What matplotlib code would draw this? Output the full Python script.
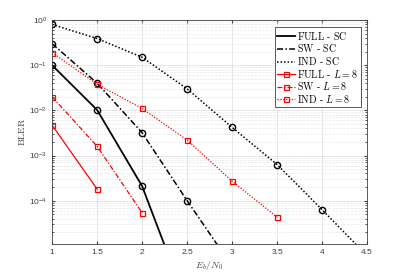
import matplotlib
import matplotlib.pyplot as plt

matplotlib.use("Agg")

plt.rcParams["mathtext.fontset"] = "cm"
plt.rcParams["font.family"] = ["Liberation Sans", "DejaVu Sans"]

# Eb/N0 values and BLER curves
ebn0 = [1.0, 1.5, 2.0, 2.5, 3.0, 3.5, 4.0, 4.5]

full_sc = [0.10, 0.0102, 2.1e-4, 5e-7]
sw_sc = [0.30, 0.040, 0.0032, 1.0e-4, 3.5e-6]
ind_sc = [0.80, 0.39, 0.15, 0.030, 0.0042, 6.3e-4, 6.3e-5, 6e-6]

full_l8 = [0.0047, 1.8e-4]
sw_l8 = [0.020, 1.6e-3, 5.4e-5]
ind_l8 = [0.19, 0.038, 0.011, 0.0022, 2.7e-4, 4.3e-5]

labels = [r"$\text{FULL - SC}$", r"$\text{SW - SC}$", r"$\text{IND - SC}$",
          r"$\text{FULL - }L=8$", r"$\text{SW - }L=8$", r"$\text{IND - }L=8$"]

DASHDOT = (0, (4, 1.5, 1, 1.5))
DOTTED = (0, (1, 1.3))


def plot_curves():
    fig = plt.figure(figsize=(4.07, 2.75), dpi=100)
    ax = fig.add_axes([0.128, 0.113, 0.774, 0.814])

    circ = dict(color="black", marker="o", markersize=4.5, markerfacecolor="none",
                markeredgewidth=1.0, linestyle="none")
    red = dict(color="red", marker="s", markersize=3.6, markerfacecolor="none",
               markeredgewidth=0.9)

    # black curves: line in legend, markers drawn separately
    for ys, ls, lw, lab in [(full_sc, "-", 1.3, labels[0]),
                            (sw_sc, DASHDOT, 1.1, labels[1]),
                            (ind_sc, DOTTED, 1.1, labels[2])]:
        xs = ebn0[:len(ys)]
        ax.semilogy(xs, ys, color="black", linestyle=ls, linewidth=lw, label=lab)
        ax.semilogy(xs, ys, **circ)

    ax.semilogy(ebn0[:len(full_l8)], full_l8, linestyle="-", linewidth=0.9, label=labels[3], **red)
    ax.semilogy(ebn0[:len(sw_l8)], sw_l8, linestyle=DASHDOT, linewidth=0.9, label=labels[4], **red)
    ax.semilogy(ebn0[:len(ind_l8)], ind_l8, linestyle=DOTTED, linewidth=0.9, label=labels[5], **red)

    ax.set_xlim(1, 4.5)
    ax.set_ylim(1.1e-5, 1)
    ax.set_xticks([1, 1.5, 2, 2.5, 3, 3.5, 4, 4.5])
    ax.set_xticklabels(["1", "1.5", "2", "2.5", "3", "3.5", "4", "4.5"])
    ax.set_yticks([1e-4, 1e-3, 1e-2, 1e-1, 1])

    ax.grid(True, which="major", color="#dcdcdc", linewidth=0.5)
    ax.grid(True, which="minor", axis="y", color="#e8e8e8", linewidth=0.5, linestyle="--")
    ax.set_axisbelow(True)
    ax.tick_params(which="both", direction="in", labelsize=6, colors="#404040",
                   length=2.5, top=True, right=True)
    ax.tick_params(which="minor", length=1.5)
    for s in ax.spines.values():
        s.set_color("#404040")
        s.set_linewidth(0.6)

    ax.set_xlabel(r"$E_b/N_0$", fontsize=7, color="#404040", labelpad=2)
    ax.set_ylabel(r"$\mathrm{BLER}$", fontsize=7, color="#404040", labelpad=2)

    leg = ax.legend(loc="upper right", fontsize=7.2, handlelength=1.8, handletextpad=0.2,
                    labelspacing=0.06, borderpad=0.25, fancybox=False, framealpha=1,
                    edgecolor="#404040", bbox_to_anchor=(0.995, 0.99))
    leg.get_frame().set_linewidth(0.6)

    fig.savefig("out.png", dpi=100)


if __name__ == "__main__":
    plot_curves()
